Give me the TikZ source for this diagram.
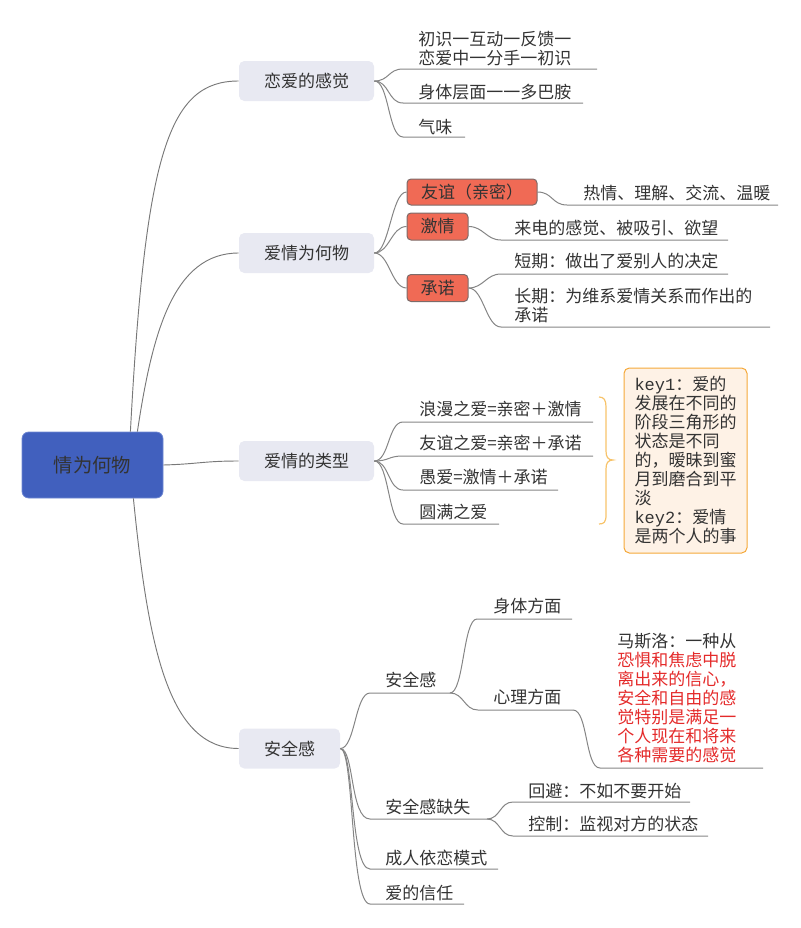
\documentclass[tikz,border=0pt]{standalone}
\usepackage{fontspec}
\setmainfont{Noto Sans CJK SC}
\newfontfamily\keymono{Liberation Mono}
\definecolor{textc}{HTML}{333333}
\definecolor{linec}{HTML}{858585}
\definecolor{rootfill}{HTML}{4160BE}
\definecolor{rootdraw}{HTML}{6F88D2}
\definecolor{topicfill}{HTML}{E8E9F2}
\definecolor{redfill}{HTML}{F06A55}
\definecolor{reddraw}{HTML}{7D6B69}
\definecolor{keyfill}{HTML}{FEF2E6}
\definecolor{keydraw}{HTML}{F5A93A}
\definecolor{bracec}{HTML}{F7C36A}
\definecolor{redtext}{HTML}{E42A2A}
\begin{document}
\begin{tikzpicture}[x=0.75pt,y=-0.75pt,
  txtf/.style={font=\fontsize{12.75pt}{14.25pt}\selectfont, text=textc},
  leaf/.style={txtf, inner sep=0pt, anchor=base west, align=left},
  topic/.style={txtf, fill=topicfill, rounded corners=4pt, minimum width=101.25pt, minimum height=30pt, inner sep=0pt},
  rootbox/.style={font=\fontsize{14.5pt}{16pt}\selectfont, text=textc, fill=rootfill, draw=rootdraw, line width=0.6pt, rounded corners=5pt, minimum width=105.75pt, minimum height=49.5pt, inner sep=0pt},
  redbox/.style={txtf, fill=redfill, draw=reddraw, line width=0.75pt, rounded corners=3pt, inner sep=0pt},
  keybox/.style={txtf, fill=keyfill, draw=keydraw, line width=0.75pt, rounded corners=4pt, align=left, minimum width=92.25pt, minimum height=138.75pt, inner sep=0pt},
  conn/.style={draw=linec, line width=0.75pt},
  rconn/.style={draw=linec!90!black, line width=0.7pt}
]
\useasboundingbox (0,0) rectangle (800,928);

% ---------- root and main topics ----------
\node[rootbox] (root) at (92.5,465) {情为何物};
\node[topic] (t1) at (306.5,81) {恋爱的感觉};
\node[topic] (t2) at (306.5,253) {爱情为何物};
\node[topic] (t3) at (306.5,461) {爱情的类型};
\node[topic, minimum width=75.75pt] (t4) at (289.5,748.5) {安全感};

\draw[rconn] ([xshift=-24.75pt]root.north east) .. controls +(15,-280) and +(-70,0) .. (t1.west);
\draw[rconn] ([xshift=-19.5pt]root.north east) .. controls +(15,-100) and +(-65,0) .. (t2.west);
\draw[rconn] (root.east) .. controls +(35,-1) and +(-35,0) .. (t3.west);
\draw[rconn] ([xshift=-22.5pt]root.south east) .. controls +(15,150) and +(-70,0) .. (t4.west);

% ---------- 恋爱的感觉 ----------
\node[leaf] (a1) at (418,64.5) {初识一互动一反馈一\\恋爱中一分手一初识};
\node[leaf] (a2) at (418,98.5) {身体层面一一多巴胺};
\node[leaf] (a3) at (418,133) {气味};
\coordinate (a1s) at (403,69);  \coordinate (a1e) at (597,69);
\coordinate (a2s) at (403,103); \coordinate (a2e) at (583,103);
\coordinate (a3s) at (403,137); \coordinate (a3e) at (465,137);
\foreach \i in {1,2,3}
  \draw[conn] (t1.east) .. controls +(15,0) and +(-15,0) .. (a\i s) -- (a\i e);

% ---------- 爱情为何物 ----------
\node[redbox, minimum width=97.5pt, minimum height=19.5pt] (r1) at (472,192) {友谊（亲密）};
\node[redbox, minimum width=45.75pt, minimum height=20.25pt] (r2) at (437.5,226.5) {激情};
\node[redbox, minimum width=45.75pt, minimum height=20.25pt] (r3) at (437.5,288) {承诺};
\foreach \i in {1,2,3}
  \draw[conn] (t2.east) .. controls +(15,0) and +(-15,0) .. (r\i.west);

\node[leaf] (b1) at (583,199.5) {热情、理解、交流、温暖};
\node[leaf] (b2) at (514,234.5) {来电的感觉、被吸引、欲望};
\node[leaf] (b3) at (514,267.5) {短期：做出了爱别人的决定};
\node[leaf] (b4) at (514,321.5) {长期：为维系爱情关系而作出的\\承诺};
\coordinate (b1s) at (567,205); \coordinate (b1e) at (778,205);
\coordinate (b2s) at (501,240); \coordinate (b2e) at (728,240);
\coordinate (b3s) at (501,274); \coordinate (b3e) at (728,274);
\coordinate (b4s) at (501,327); \coordinate (b4e) at (770,327);
\draw[conn] (r1.east) .. controls +(15,0) and +(-15,0) .. (b1s) -- (b1e);
\draw[conn] (r2.east) .. controls +(15,0) and +(-15,0) .. (b2s) -- (b2e);
\draw[conn] (r3.east) .. controls +(15,0) and +(-15,0) .. (b3s) -- (b3e);
\draw[conn] (r3.east) .. controls +(15,0) and +(-15,0) .. (b4s) -- (b4e);

% ---------- 爱情的类型 ----------
\node[leaf] (c1) at (419,415.5) {浪漫之爱=亲密＋激情};
\node[leaf] (c2) at (419,449.5) {友谊之爱=亲密＋承诺};
\node[leaf] (c3) at (419,483.5) {愚爱=激情＋承诺};
\node[leaf] (c4) at (419,518.5) {圆满之爱};
\coordinate (c1s) at (403,422); \coordinate (c1e) at (593,422);
\coordinate (c2s) at (403,456); \coordinate (c2e) at (593,456);
\coordinate (c3s) at (403,490); \coordinate (c3e) at (558,490);
\coordinate (c4s) at (403,524); \coordinate (c4e) at (499,524);
\foreach \i in {1,2,3,4}
  \draw[conn] (t3.east) .. controls +(15,0) and +(-15,0) .. (c\i s) -- (c\i e);

% brace and key note
\draw[bracec, line width=0.9pt] (599,397) .. controls (604,397) and (606,400) .. (606,407)
  -- (606,451) .. controls (606,457) and (608,460) .. (613,460)
  .. controls (608,460) and (606,463) .. (606,469)
  -- (606,515) .. controls (606,522) and (604,524) .. (599,524);
\node[keybox] (key) at (685.5,460.5) {{\keymono key1}：爱的\\发展在不同的\\阶段三角形的\\状态是不同\\的，暧昧到蜜\\月到磨合到平\\淡\\{\keymono key2}：爱情\\是两个人的事};

% ---------- 安全感 ----------
\node[leaf] (d1) at (385,686.5) {安全感};
\node[leaf] (d2) at (385,813.5) {安全感缺失};
\node[leaf] (d3) at (385,864.5) {成人依恋模式};
\node[leaf] (d4) at (385,899.5) {爱的信任};
\coordinate (d1s) at (370,693); \coordinate (d1e) at (450,693);
\coordinate (d2s) at (370,819); \coordinate (d2e) at (487,819);
\coordinate (d3s) at (370,869); \coordinate (d3e) at (498,869);
\coordinate (d4s) at (370,904); \coordinate (d4e) at (464,904);
\draw[conn] (t4.east) .. controls +(15,0) and +(-15,0) .. (d1s) -- (d1e);
\foreach \i in {2,3,4}
  \draw[conn] (t4.east) .. controls +(14,0) and +(-20,0) .. (d\i s) -- (d\i e);

\node[leaf] (e1) at (493,612.5) {身体方面};
\node[leaf] (e2) at (493,703.5) {心理方面};
\coordinate (e1s) at (477,619); \coordinate (e1e) at (572,619);
\coordinate (e2s) at (478,710); \coordinate (e2e) at (573,710);
\draw[conn] (d1e) .. controls +(14,0) and +(-14,0) .. (e1s) -- (e1e);
\draw[conn] (d1e) .. controls +(14,0) and +(-14,0) .. (e2s) -- (e2e);

\node[leaf] (f1) at (617,761.5) {马斯洛：一种从\\\textcolor{redtext}{恐惧和焦虑中脱}\\\textcolor{redtext}{离出来的信心，}\\\textcolor{redtext}{安全和自由的感}\\\textcolor{redtext}{觉特别是满足一}\\\textcolor{redtext}{个人现在和将来}\\\textcolor{redtext}{各种需要的感觉}};
\coordinate (f1s) at (600,768); \coordinate (f1e) at (763,768);
\draw[conn] (e2e) .. controls +(15,0) and +(-15,0) .. (f1s) -- (f1e);

\node[leaf] (g1) at (528,797.5) {回避：不如不要开始};
\node[leaf] (g2) at (528,830.5) {控制：监视对方的状态};
\coordinate (g1s) at (513,802); \coordinate (g1e) at (690,802);
\coordinate (g2s) at (513,836); \coordinate (g2e) at (708,836);
\draw[conn] (d2e) .. controls +(13,0) and +(-13,0) .. (g1s) -- (g1e);
\draw[conn] (d2e) .. controls +(13,0) and +(-13,0) .. (g2s) -- (g2e);
\end{tikzpicture}
\end{document}
